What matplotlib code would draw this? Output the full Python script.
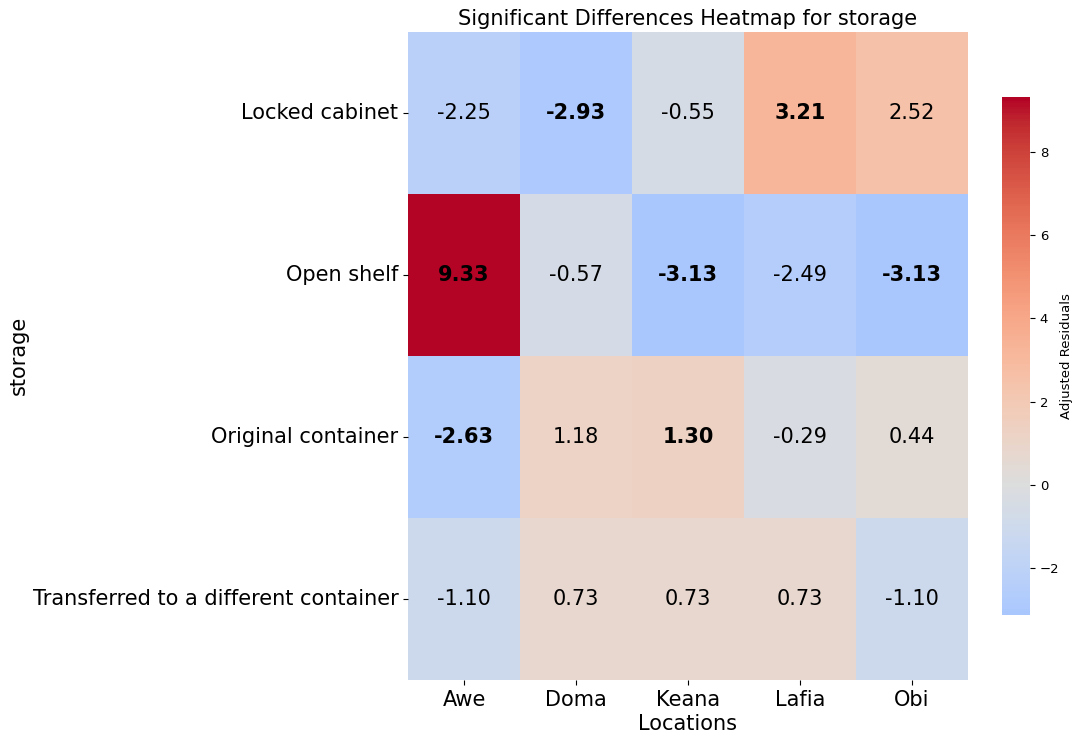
import numpy as np
import matplotlib
matplotlib.use('Agg')
import matplotlib.pyplot as plt
import seaborn as sns

locations = ['Awe', 'Doma', 'Keana', 'Lafia', 'Obi']
storage = ['Locked cabinet', 'Open shelf', 'Original container',
           'Transferred to a different container']

locked_cabinet = [-2.25, -2.93, -0.55, 3.21, 2.52]
open_shelf = [9.33, -0.57, -3.13, -2.49, -3.13]
original_container = [-2.63, 1.18, 1.30, -0.29, 0.44]
transferred = [-1.10, 0.73, 0.73, 0.73, -1.10]

# which cells came out significant (drawn bold)
sig_locked = [False, True, False, True, False]
sig_open = [True, False, True, False, True]
sig_original = [True, False, True, False, False]
sig_transferred = [False, False, False, False, False]

residuals = np.array([locked_cabinet, open_shelf, original_container, transferred])
significant = np.array([sig_locked, sig_open, sig_original, sig_transferred])

fig = plt.figure(figsize=(10.74, 7.39), dpi=100)
ax = fig.add_axes([0.38, 0.080, 0.521, 0.877])
cax = fig.add_axes([0.933, 0.168, 0.026, 0.701])

sns.heatmap(residuals, ax=ax, cbar_ax=cax, cmap='coolwarm', center=0,
            annot=False, xticklabels=locations, yticklabels=storage,
            cbar_kws={'label': 'Adjusted Residuals'})

for i in range(residuals.shape[0]):
    for j in range(residuals.shape[1]):
        ax.text(j + 0.5, i + 0.5, f'{residuals[i, j]:.2f}', ha='center', va='center',
                fontsize=15, color='black',
                fontweight='bold' if significant[i, j] else 'normal')

ax.set_title('Significant Differences Heatmap for storage', fontsize=15, pad=5)
ax.set_xlabel('Locations', fontsize=15, labelpad=3)
ax.set_ylabel('storage', fontsize=15)
ax.yaxis.set_label_coords(-0.678, 0.5)
ax.tick_params(axis='x', labelsize=15, rotation=0)
ax.tick_params(axis='y', labelsize=15, rotation=0)

cax.tick_params(labelsize=9.5)
cax.set_ylabel('Adjusted Residuals', fontsize=9.5)
cax.yaxis.set_label_coords(2.06, 0.5)

fig.savefig('out.png', dpi=100)
